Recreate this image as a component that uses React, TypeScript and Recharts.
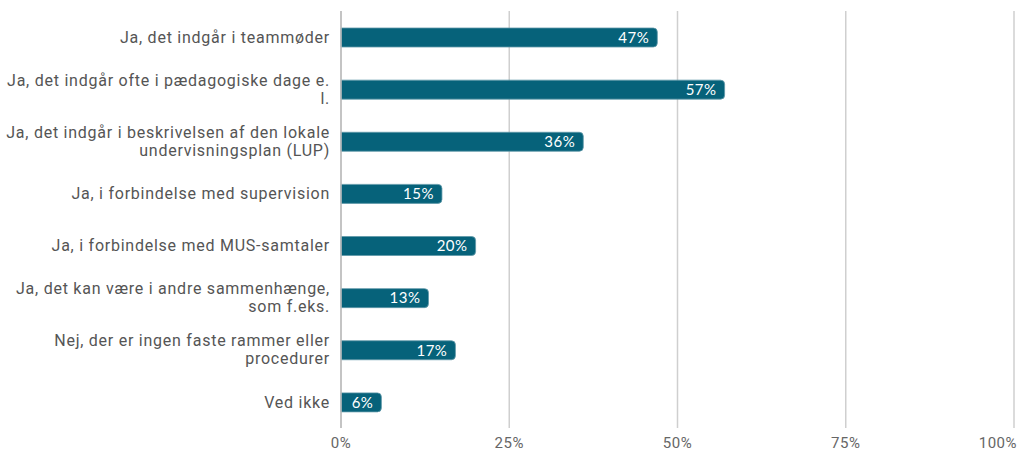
import { Bar, BarChart, CartesianGrid, LabelList, XAxis, YAxis } from "recharts";

const categories = [
  "Ja, det indgår i teammøder",
  "Ja, det indgår ofte i pædagogiske dage e.\nl.",
  "Ja, det indgår i beskrivelsen af den lokale\nundervisningsplan (LUP)",
  "Ja, i forbindelse med supervision",
  "Ja, i forbindelse med MUS-samtaler",
  "Ja, det kan være i andre sammenhænge,\nsom f.eks.",
  "Nej, der er ingen faste rammer eller\nprocedurer",
  "Ved ikke",
];
const shares = [47, 57, 36, 15, 20, 13, 17, 6];
const xTicks = [0, 25, 50, 75, 100];

const data = categories.map((name, i) => ({ name, value: shares[i] }));

const W = 1019;

function CategoryTick({ x, y, payload }: any) {
  const lines = String(payload.value).split("\n");
  return (
    <text
      x={x}
      y={y}
      textAnchor="end"
      fill="#555555"
      fontSize={16}
      letterSpacing={0.75}
      fontFamily="Roboto, sans-serif"
    >
      {lines.map((line, i) => (
        <tspan key={i} x={x} y={y + (i - (lines.length - 1) / 2) * 18} dy="0.355em">
          {line}
        </tspan>
      ))}
    </text>
  );
}

function PercentTick({ x, y, payload }: any) {
  const label = `${payload.value}%`;
  const half = label.length * 5;
  const atEdge = x + half > W;
  return (
    <text
      x={atEdge ? W - 2 : x}
      y={y}
      dy="0.71em"
      textAnchor={atEdge ? "end" : "middle"}
      fill="#666"
      fontSize={15}
      letterSpacing={0.5}
      fontFamily="Roboto, sans-serif"
    >
      {label}
    </text>
  );
}

export default function App() {
  return (
    <div style={{ position: "absolute", left: 0, top: 0, background: "#fff" }}>
      <BarChart
        width={W}
        height={450}
        data={data}
        layout="vertical"
        margin={{ top: 11, right: 5, bottom: 0, left: 0 }}
        barCategoryGap={0}
      >
        <CartesianGrid horizontal={false} stroke="#cfcfcf" strokeWidth={1.5} />
        <XAxis
          type="number"
          domain={[0, 100]}
          ticks={xTicks}
          tick={<PercentTick />}
          axisLine={false}
          tickLine={false}
          tickMargin={3}
          height={22}
        />
        <YAxis
          type="category"
          dataKey="name"
          width={341}
          tick={<CategoryTick />}
          axisLine={{ stroke: "#bdbdbd", strokeWidth: 1.5 }}
          tickLine={false}
          tickMargin={5}
          interval={0}
        />
        <Bar
          dataKey="value"
          fill="#06627a"
          stroke="#5f98a8"
          strokeWidth={0.8}
          barSize={19}
          radius={[0, 4, 4, 0]}
          isAnimationActive={false}
        >
          <LabelList
            dataKey="value"
            position="insideRight"
            offset={8}
            formatter={(v: any) => `${v}%`}
            fill="#ffffff"
            fontSize={15}
            letterSpacing={0.5}
            fontFamily="Lato, sans-serif"
          />
        </Bar>
      </BarChart>
    </div>
  );
}
